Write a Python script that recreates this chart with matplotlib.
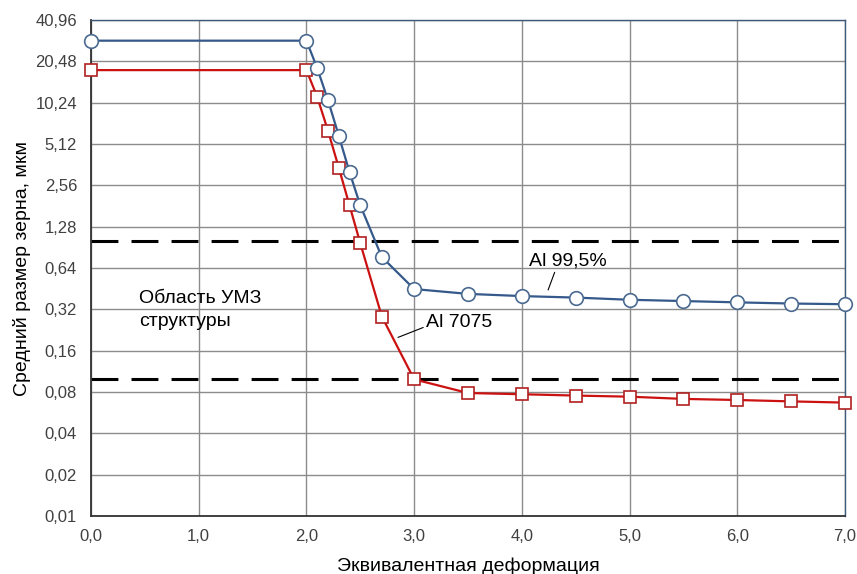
import numpy as np
from matplotlib import pyplot as plt

# данные
x_pts = [0.0, 2.0, 2.1, 2.2, 2.3, 2.4, 2.5, 2.7, 3.0, 3.5, 4.0, 4.5, 5.0, 5.5, 6.0, 6.5, 7.0]
al995 = [29.0, 29.0, 18.3, 10.7, 5.9, 3.2, 1.83, 0.77, 0.45, 0.415, 0.40, 0.39, 0.376, 0.368, 0.36, 0.353, 0.349]
al7075 = [17.7, 17.7, 11.3, 6.4, 3.45, 1.83, 0.97, 0.284, 0.099, 0.0787, 0.0771, 0.0754, 0.074, 0.0713, 0.070, 0.0684, 0.067]
umz_bounds = [1.0, 0.1]
y_ticks = [0.01 * 2 ** k for k in range(13)]
x_ticks = [0, 1, 2, 3, 4, 5, 6, 7]

plt.rcParams['font.family'] = ['Liberation Sans', 'DejaVu Sans']

fig = plt.figure(figsize=(8.57, 5.74), dpi=100)
ax = fig.add_axes([0.1062, 0.101, 0.8798, 0.864])

ax.set_yscale('log', base=2)
ax.set_ylim(0.01, 40.96)
ax.set_xlim(0, 7)
ax.set_yticks(y_ticks)
ax.set_yticklabels([('%.2f' % v).replace('.', ',') for v in y_ticks])
ax.yaxis.set_minor_locator(plt.NullLocator())
ax.set_xticks(x_ticks)
ax.set_xticklabels([('%.1f' % v).replace('.', ',') for v in x_ticks])
ax.tick_params(length=0, labelsize=12, colors='#404040')
ax.tick_params(axis='y', pad=10)
ax.tick_params(axis='x', pad=9)
ax.grid(True, color='#8c8c8c', lw=1.0)
ax.set_axisbelow(True)

for s in ['left', 'bottom']:
    ax.spines[s].set_color('#333333')
    ax.spines[s].set_linewidth(1.3)
for s in ['top', 'right']:
    ax.spines[s].set_color('#3e5a7a')
    ax.spines[s].set_linewidth(1.0)

for b in umz_bounds:
    ax.axhline(b, color='black', lw=2.2, dashes=(8.8, 4.3), zorder=2)

ax.plot(x_pts, al995, color='#35598a', lw=1.6, marker='o', ms=9.8,
        mfc='white', mec='#4a6a90', mew=1.2, zorder=4, clip_on=False)
ax.plot(x_pts, al7075, color='#cc1111', lw=1.6, marker='s', ms=9.0,
        mfc='white', mec='#b02020', mew=1.2, zorder=3, clip_on=False)

ax.text(0.45, 0.315, 'Область УМЗ\nструктуры', fontsize=14, va='center', ha='left',
        linespacing=1.45)
ax.annotate('Al 7075', xy=(2.85, 0.20), xytext=(3.11, 0.255), fontsize=14,
            va='center', ha='left',
            arrowprops=dict(arrowstyle='-', color='black', lw=0.8, shrinkA=0, shrinkB=0,
                            relpos=(-0.03, 0.25)))
ax.annotate('Al 99,5%', xy=(4.23, 0.415), xytext=(4.07, 0.72), fontsize=14,
            va='center', ha='left',
            arrowprops=dict(arrowstyle='-', color='black', lw=0.8, shrinkA=0, shrinkB=3,
                            relpos=(0.33, -0.1)))

ax.set_xlabel('Эквивалентная деформация', fontsize=14, labelpad=10)
ax.set_ylabel('Средний размер зерна, мкм', fontsize=14, labelpad=3)

fig.savefig('out.png', dpi=100)
